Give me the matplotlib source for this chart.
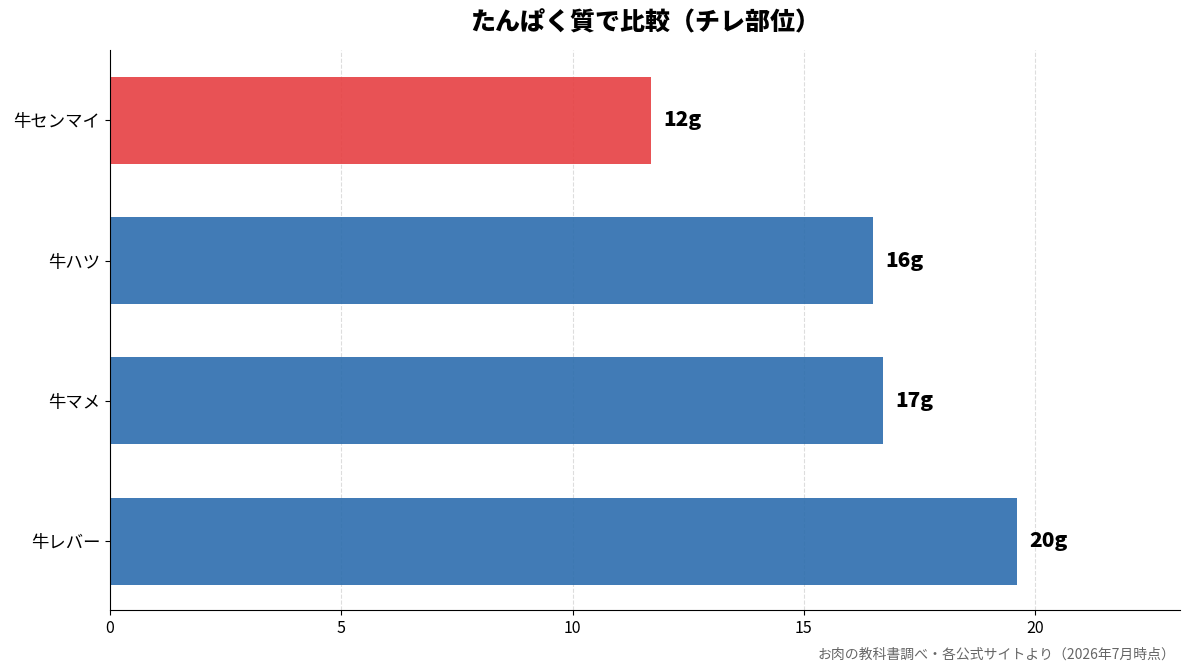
import matplotlib
matplotlib.use("Agg")
import matplotlib.pyplot as plt

plt.rcParams['font.family'] = ['Noto Sans CJK JP', 'DejaVu Sans']

categories = ["牛レバー", "牛マメ", "牛ハツ", "牛センマイ"]
protein = [19.6, 16.7, 16.5, 11.7]
value_labels = ["20g", "17g", "16g", "12g"]
highlight = "牛センマイ"
title = "たんぱく質で比較（チレ部位）"
source = "お肉の教科書調べ・各公式サイトより（2026年7月時点）"

fig = plt.figure(figsize=(11.93, 6.72), dpi=100)
ax = fig.add_axes([110/1193, 1-610/672, 1070/1193, 560/672])

colors = ["#E63F42" if c == highlight else "#2C6DAE" for c in categories]
ypos = list(range(len(categories)))
ax.barh(ypos, protein, height=0.62, color=colors, alpha=0.9, zorder=2)
ax.set_yticks(ypos)
ax.set_yticklabels(categories, fontsize=12.5)
ax.set_xlim(0, max(protein) * 1.18)
ax.set_ylim(-0.49, 3.5)
ax.set_xticks([0, 5, 10, 15, 20])
ax.tick_params(axis='x', labelsize=11.5)

for y, v, lab in zip(ypos, protein, value_labels):
    ax.text(v + 0.27, y, lab, va='center', ha='left', fontsize=15, fontweight='heavy')

ax.xaxis.grid(True, linestyle='--', color='#dddddd', linewidth=0.8, zorder=1)
ax.set_axisbelow(True)
gl = ax.get_xgridlines()
if gl:
    gl[0].set_visible(False)
for s in ['top', 'right']:
    ax.spines[s].set_visible(False)

ax.set_title(title, fontsize=18, fontweight='heavy', pad=14)
fig.text(1175/1193, 1-655/672, source, ha='right', va='center', fontsize=10, color='#666666')

fig.savefig("out.png", dpi=100)
